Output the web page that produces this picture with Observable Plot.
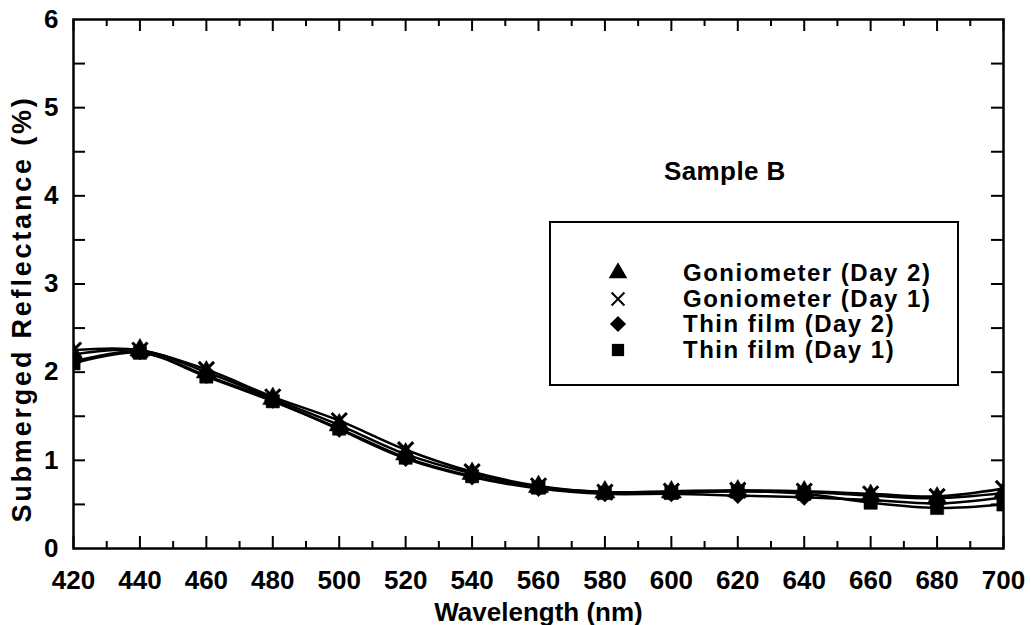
<!DOCTYPE html>
<html><head><meta charset="utf-8">
<script src="https://cdn.jsdelivr.net/npm/d3@7"></script>
<script src="https://cdn.jsdelivr.net/npm/@observablehq/plot@0.6"></script>
<style>
body{margin:0;background:#fff;}
#wrap{position:relative;width:1031px;height:625px;font-family:"Liberation Sans",Arial,Helvetica,sans-serif;color:#000;}
#title{position:absolute;left:664px;top:156px;font-weight:700;font-size:26px;letter-spacing:0.4px;white-space:nowrap;}
#legend{position:absolute;left:549px;top:221px;width:410px;height:165px;border:2px solid #000;box-sizing:border-box;background:#fff;}
.row{position:absolute;left:0;height:26px;white-space:nowrap;font-weight:700;font-size:24px;line-height:24px;letter-spacing:1.5px;}
.row svg{position:absolute;left:56px;top:2px;}
.row span{position:absolute;left:132px;top:1px;}
</style></head>
<body><div id="wrap"><div id="title">Sample B</div><div id="legend"></div></div>
<script>
const wavelengths   = [420, 440, 460, 480, 500, 520, 540, 560, 580, 600, 620, 640, 660, 680, 700];
const goniometerDay2 = [2.20, 2.25, 2.00, 1.70, 1.40, 1.07, 0.85, 0.70, 0.64, 0.64, 0.65, 0.64, 0.60, 0.57, 0.63];
const goniometerDay1 = [2.25, 2.25, 2.03, 1.72, 1.45, 1.12, 0.87, 0.71, 0.64, 0.65, 0.66, 0.65, 0.62, 0.59, 0.68];
const thinFilmDay2   = [2.12, 2.23, 1.96, 1.68, 1.35, 1.02, 0.81, 0.68, 0.62, 0.62, 0.60, 0.58, 0.55, 0.51, 0.58];
const thinFilmDay1   = [2.10, 2.22, 1.95, 1.67, 1.36, 1.03, 0.82, 0.69, 0.63, 0.63, 0.65, 0.62, 0.52, 0.46, 0.50];
const seriesNames   = ["Goniometer (Day 2)", "Goniometer (Day 1)", "Thin film (Day 2)", "Thin film (Day 1)"];
const seriesSymbols = ["triangle", "times", "diamond", "square"];
const xTickLabels   = [420, 440, 460, 480, 500, 520, 540, 560, 580, 600, 620, 640, 660, 680, 700];
const yTickLabels   = [0, 1, 2, 3, 4, 5, 6];
const xAxisTitle = "Wavelength (nm)";
const yAxisTitle = "Submerged Reflectance (%)";

const seriesValues = [goniometerDay2, goniometerDay1, thinFilmDay2, thinFilmDay1];
const data = seriesNames.flatMap((name, s) =>
  wavelengths.map((w, i) => ({wavelength: w, value: seriesValues[s][i], series: name})));

const W = 1031, H = 625, mT = 19, mB = 77, mL = 73, mR = 28;
const innerH = H - mT - mB, innerW = W - mL - mR;
const xMajor = d3.range(420, 701, 20), xMinor = d3.range(430, 700, 20);
const yTicks = d3.range(0.5, 6, 0.5);
const font = '"Liberation Sans", Arial, Helvetica, sans-serif';

const wideDiamond = {draw(ctx, size) { const r = Math.sqrt(size / 2); ctx.moveTo(0, -r); ctx.lineTo(r, 0); ctx.lineTo(0, r); ctx.lineTo(-r, 0); ctx.closePath(); }};
const symbolObj = {triangle: d3.symbolTriangle, times: d3.symbolTimes, diamond: wideDiamond, square: d3.symbolSquare};

const dotMarks = seriesNames.map((name, s) => {
  const sym = seriesSymbols[s];
  const filled = sym !== "times";
  return Plot.dot(data.filter(d => d.series === name), {
    x: "wavelength", y: "value", symbol: symbolObj[sym], r: sym === "times" ? 7 : (sym === "diamond" ? 6.5 : 7.5),
    fill: filled ? "#000" : "none", stroke: "#000", strokeWidth: filled ? 0.5 : 3, clip: true
  });
});

const chart = Plot.plot({
  width: W, height: H, marginTop: mT, marginBottom: mB, marginLeft: mL, marginRight: mR,
  style: {fontFamily: font, background: "#fff", color: "#000"},
  x: {domain: [420, 700]},
  y: {domain: [0, 6]},
  marks: [
    Plot.line(data, {x: "wavelength", y: "value", z: "series", curve: "catmull-rom", stroke: "#000", strokeWidth: 2.5, clip: true}),
    ...dotMarks,
    Plot.tickX(xMajor, {x: d => d, insetTop: innerH - 12, stroke: "#000", strokeWidth: 2}),
    Plot.tickX(xMinor, {x: d => d, insetTop: innerH - 7, stroke: "#000", strokeWidth: 2}),
    Plot.tickX(xMajor, {x: d => d, insetBottom: innerH - 12, stroke: "#000", strokeWidth: 2}),
    Plot.tickX(xMinor, {x: d => d, insetBottom: innerH - 7, stroke: "#000", strokeWidth: 2}),
    Plot.tickY(yTicks, {y: d => d, insetRight: innerW - 12, stroke: "#000", strokeWidth: 2}),
    Plot.tickY(yTicks, {y: d => d, insetLeft: innerW - 12, stroke: "#000", strokeWidth: 2}),
    Plot.frame({stroke: "#000", strokeWidth: 2.5}),
    Plot.axisX({ticks: xTickLabels, tickSize: 0, tickPadding: 22, tickFormat: d => String(d), fontSize: 26, fontWeight: "bold", label: null}),
    Plot.axisY({ticks: yTickLabels, tickSize: 0, tickPadding: 15, tickFormat: d => String(d), fontSize: 26, fontWeight: "bold", label: null}),
    Plot.text([xAxisTitle], {frameAnchor: "bottom", textAnchor: "middle", lineAnchor: "bottom", dy: 72, text: d => d, fontSize: 26, fontWeight: "bold", fill: "#000"}),
    Plot.text([yAxisTitle], {frameAnchor: "left", textAnchor: "middle", lineAnchor: "middle", dx: -51, dy: 25, rotate: -90, text: d => d, fontSize: 27, fontWeight: "bold", fill: "#000"})
  ]
});
d3.select(chart).selectAll("text").filter(function() { return this.textContent === yAxisTitle; }).style("letter-spacing", "2.8px");
document.getElementById("wrap").prepend(chart);

// legend
const legend = document.getElementById("legend");
const rowTops = [37, 63, 88, 114];
seriesNames.forEach((name, s) => {
  const row = document.createElement("div");
  row.className = "row";
  row.style.top = rowTops[s] + "px";
  const sym = seriesSymbols[s];
  const path = d3.symbol(symbolObj[sym], sym === "times" ? 110 : (sym === "diamond" ? 130 : 150))();
  const attrs = sym === "times" ? 'fill="none" stroke="#000" stroke-width="2"' : 'fill="#000"';
  row.innerHTML = `<svg width="22" height="22" viewBox="-11 -11 22 22"><path d="${path}" ${attrs}/></svg><span>${name}</span>`;
  legend.appendChild(row);
});
</script></body></html>
